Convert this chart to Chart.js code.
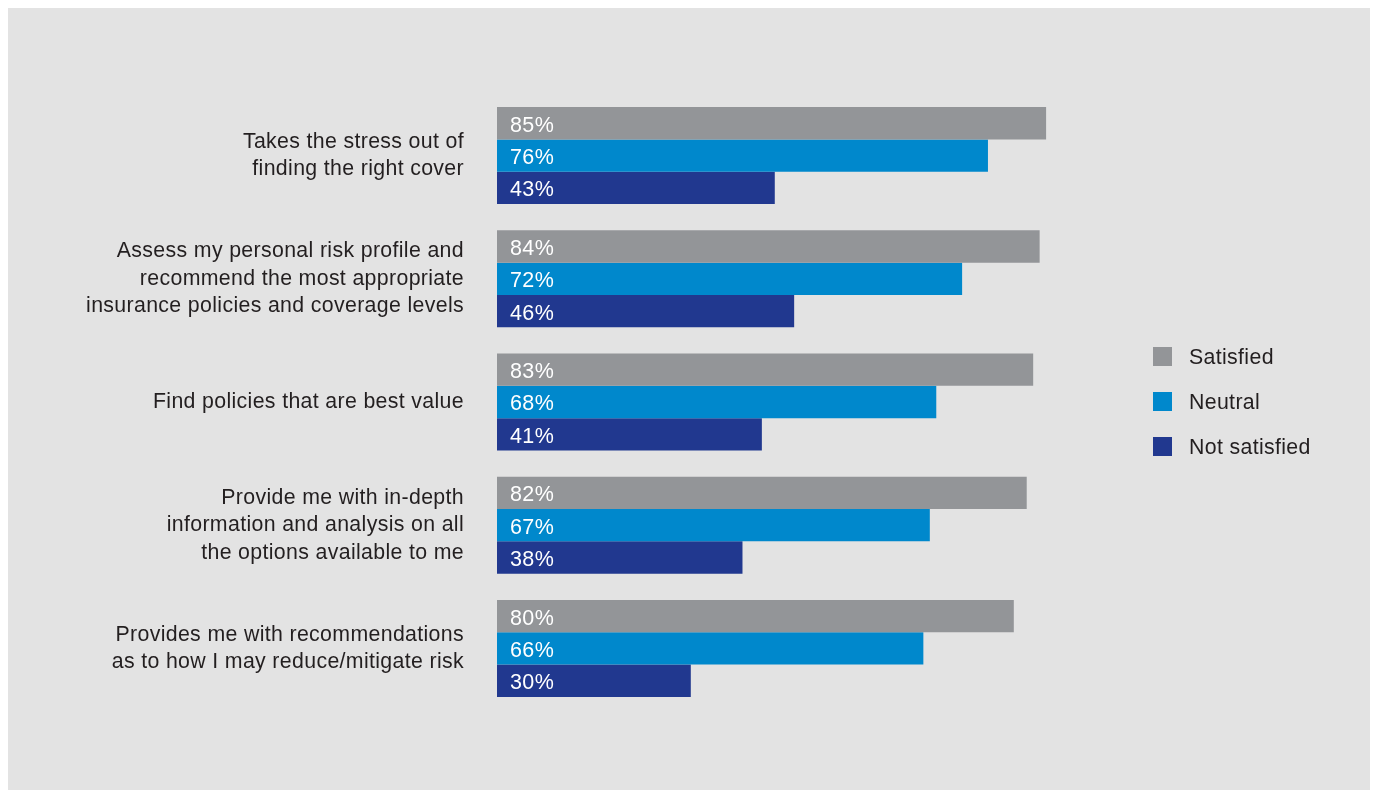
<!DOCTYPE html>
<html>
<head>
<meta charset="utf-8">
<script src="https://cdn.jsdelivr.net/npm/chart.js@4/dist/chart.umd.min.js"></script>
<style>
  body { margin: 0; background: #ffffff; }
  #panel { position: absolute; left: 8px; top: 8px; width: 1362px; height: 782px; background: #e3e3e3; }
</style>
</head>
<body>
<div id="panel"><canvas id="surveyChart" width="1362" height="782"></canvas></div>
<script>
// kategorije (visestruki redovi za oznake)
const categories = [
    ['Takes the stress out of', 'finding the right cover'],
    ['Assess my personal risk profile and', 'recommend the most appropriate', 'insurance policies and coverage levels'],
    ['Find policies that are best value'],
    ['Provide me with in-depth', 'information and analysis on all', 'the options available to me'],
    ['Provides me with recommendations', 'as to how I may reduce/mitigate risk']
];
const seriesNames = ['Satisfied', 'Neutral', 'Not satisfied'];
const satisfied = [85, 84, 83, 82, 80];
const neutral = [76, 72, 68, 67, 66];
const notSatisfied = [43, 46, 41, 38, 30];
const seriesColors = ['#939598', '#0088cc', '#21388f'];

const FONT = "'Liberation Sans', Arial, Helvetica, sans-serif";

// malo siri razmak slova za sav tekst
const spacing = {
    id: 'spacing',
    beforeDraw(chart) {
        chart.ctx.letterSpacing = '0.35px';
    }
};

// procenti ispisani unutar traka
const barLabels = {
    id: 'barLabels',
    afterDatasetsDraw(chart) {
        const ctx = chart.ctx;
        ctx.save();
        ctx.letterSpacing = '0.4px';
        ctx.font = '21.5px ' + FONT;
        ctx.fillStyle = '#ffffff';
        ctx.textAlign = 'left';
        ctx.textBaseline = 'middle';
        chart.data.datasets.forEach((ds, i) => {
            chart.getDatasetMeta(i).data.forEach((bar, j) => {
                ctx.fillText(ds.data[j] + '%', bar.base + 13, bar.y + 2.5);
            });
        });
        ctx.restore();
    }
};

// legenda desno, kvadrati i tekst
const sideLegend = {
    id: 'sideLegend',
    afterDraw(chart) {
        const ctx = chart.ctx;
        ctx.save();
        ctx.letterSpacing = '0.35px';
        ctx.font = '21.3px ' + FONT;
        ctx.textAlign = 'left';
        ctx.textBaseline = 'middle';
        chart.data.datasets.forEach((ds, i) => {
            const cy = 348.5 + i * 45;
            ctx.fillStyle = ds.backgroundColor;
            ctx.fillRect(1145, cy - 9.5, 19, 19);
            ctx.fillStyle = '#231f20';
            ctx.fillText(ds.label, 1181, cy + 1.5);
        });
        ctx.restore();
    }
};

const ctx = document.getElementById('surveyChart').getContext('2d');
new Chart(ctx, {
    type: 'bar',
    data: {
        labels: categories,
        datasets: [
            { label: seriesNames[0], data: satisfied, backgroundColor: seriesColors[0] },
            { label: seriesNames[1], data: neutral, backgroundColor: seriesColors[1] },
            { label: seriesNames[2], data: notSatisfied, backgroundColor: seriesColors[2] }
        ]
    },
    options: {
        responsive: false,
        animation: false,
        indexAxis: 'y',
        datasets: {
            bar: { categoryPercentage: 0.787, barPercentage: 1.0, borderWidth: 0 }
        },
        layout: { padding: { left: 0, top: 86, right: 227, bottom: 80 } },
        plugins: {
            legend: { display: false },
            tooltip: { enabled: false }
        },
        scales: {
            x: { display: false, min: 0, max: 100 },
            y: {
                grid: { display: false, drawTicks: false },
                border: { display: false },
                afterFit(scale) { scale.width = 489; },
                ticks: {
                    padding: 33,
                    color: '#231f20',
                    font: { size: 21.3, family: FONT, lineHeight: 1.29 }
                }
            }
        }
    },
    plugins: [spacing, barLabels, sideLegend]
});
</script>
</body>
</html>
